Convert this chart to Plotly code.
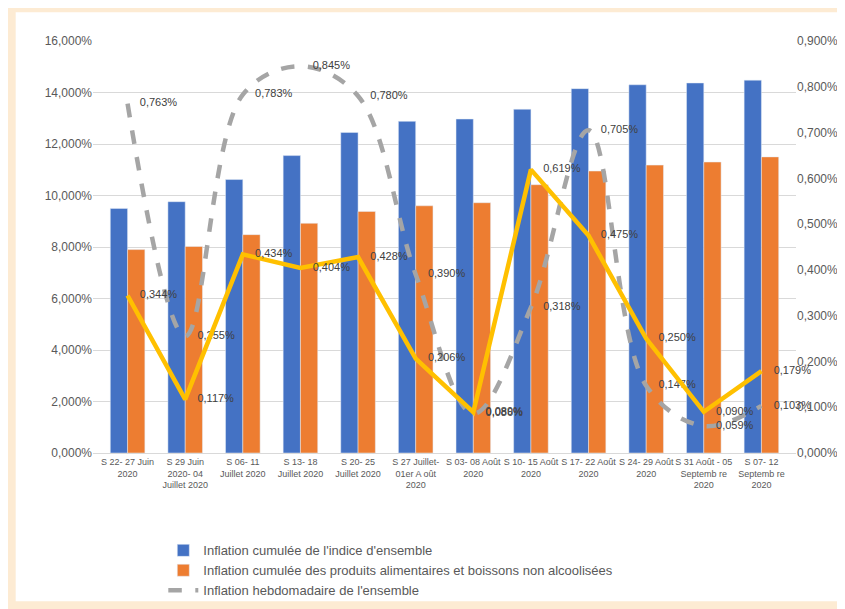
import plotly.graph_objects as go

semaines = [
    "S 22- 27 Juin<br>2020", "S 29 Juin<br>2020- 04<br>Juillet 2020", "S 06- 11<br>Juillet 2020",
    "S 13- 18<br>Juillet 2020", "S 20- 25<br>Juillet 2020", "S 27 Juillet-<br>01er A oût<br>2020",
    "S 03- 08 Août<br>2020", "S 10- 15 Août<br>2020", "S 17- 22 Août<br>2020",
    "S 24- 29 Août<br>2020", "S 31 Août - 05<br>Septemb re<br>2020", "S 07- 12<br>Septemb re<br>2020",
]
cumul_ensemble = [9.50, 9.76, 10.62, 11.55, 12.45, 12.88, 12.97, 13.35, 14.15, 14.30, 14.37, 14.48]
cumul_alim = [7.90, 8.02, 8.48, 8.92, 9.38, 9.60, 9.72, 10.42, 10.95, 11.18, 11.30, 11.50]
hebdo_ensemble = [0.763, 0.255, 0.783, 0.845, 0.780, 0.390, 0.086, 0.318, 0.705, 0.147, 0.059, 0.103]
hebdo_alim = [0.344, 0.117, 0.434, 0.404, 0.428, 0.206, 0.089, 0.619, 0.475, 0.250, 0.090, 0.179]
ticks_gauche = [0, 2, 4, 6, 8, 10, 12, 14, 16]
ticks_droite = [0, 0.1, 0.2, 0.3, 0.4, 0.5, 0.6, 0.7, 0.8, 0.9]


def fmt(v):
    return f"{v:.3f}%".replace(".", ",")


x = list(range(len(semaines)))
fig = go.Figure()
fig.add_bar(x=x, y=cumul_ensemble, name="Inflation cumulée de l'indice d'ensemble",
            marker_color="#4472C4", width=0.3, offset=-0.3)
fig.add_bar(x=x, y=cumul_alim, name="Inflation cumulée des produits alimentaires et boissons non alcoolisées",
            marker_color="#ED7D31", width=0.3, offset=0)
fig.add_scatter(x=x, y=hebdo_ensemble, yaxis="y2", mode="lines+text", cliponaxis=False,
                name="Inflation hebdomadaire de l'ensemble",
                line=dict(color="#A5A5A5", width=4.5, dash="dash", shape="spline", smoothing=1.0),
                text=["    " + fmt(v) for v in hebdo_ensemble], textposition="middle right",
                textfont=dict(size=11, color="#404040"))
fig.add_scatter(x=x, y=hebdo_alim, yaxis="y2", mode="lines+text", showlegend=False, cliponaxis=False,
                line=dict(color="#FFC000", width=4.5),
                text=["    " + fmt(v) for v in hebdo_alim], textposition="middle right",
                textfont=dict(size=11, color="#404040"))

fig.update_layout(
    width=845, height=609,
    paper_bgcolor="#FDEBD3", plot_bgcolor="white",
    font=dict(family="Liberation Sans, Arial", color="#595959"),
    margin=dict(l=85, r=57, t=33, b=157),
    shapes=[dict(type="rect", xref="paper", yref="paper", x0=-0.11, x1=1.2, y0=-0.36, y1=1.07,
                 fillcolor="white", line_width=0, layer="below")],
    xaxis=dict(tickvals=x, ticktext=semaines, tickfont=dict(size=9), range=[-0.6, 11.6],
               tickangle=0, showline=True, linecolor="#D9D9D9", ticks=""),
    yaxis=dict(range=[0, 16], tickvals=ticks_gauche,
               ticktext=[f"{v},000%" for v in ticks_gauche],
               gridcolor="#D9D9D9", tickfont=dict(size=12), zeroline=False),
    yaxis2=dict(overlaying="y", side="right", range=[0, 0.9], tickvals=ticks_droite,
                ticktext=[fmt(v) for v in ticks_droite], showgrid=False, tickfont=dict(size=12),
                zeroline=False),
    legend=dict(orientation="v", x=0.1, y=-0.2, xanchor="left", yanchor="top",
                font=dict(size=13), bgcolor="rgba(0,0,0,0)"),
)
fig.write_html("out.html")
